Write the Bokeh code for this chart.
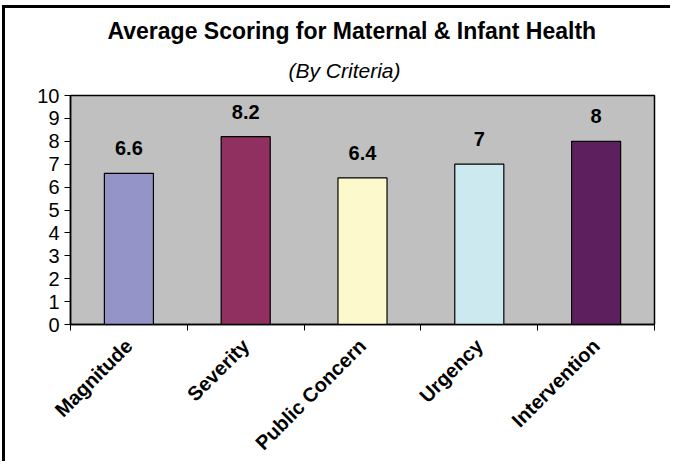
import math
from bokeh.plotting import figure
from bokeh.models import ColumnDataSource, Range1d, FixedTicker, Title
from bokeh.core.properties import value
from bokeh.embed import file_html
from bokeh.resources import INLINE

categories = ["Magnitude", "Severity", "Public Concern", "Urgency", "Intervention"]
scores = [6.6, 8.2, 6.4, 7.0, 8.0]
score_labels = ["6.6", "8.2", "6.4", "7", "8"]
bar_colors = ["#9494C8", "#8F3060", "#FCF9CC", "#CCE9F0", "#5E1F5E"]
y_ticks = [0, 1, 2, 3, 4, 5, 6, 7, 8, 9, 10]

FONT = "Liberation Sans"

xs = [i + 0.5 for i in range(len(categories))]
src = ColumnDataSource(dict(x=xs, top=scores, color=bar_colors,
                            label=score_labels,
                            ly=[s + 1.1 for s in scores]))

p = figure(width=668, height=456, output_backend="svg", toolbar_location=None,
           x_range=Range1d(0, len(categories)), y_range=Range1d(0, 10),
           min_border_left=65, min_border_right=19, min_border_top=87,
           min_border_bottom=139)
p.styles = {"border-top": "3px solid black", "border-left": "3px solid black",
            "margin-top": "5px", "margin-left": "2px"}

p.background_fill_color = "#C0C0C0"
p.border_fill_color = "white"
p.outline_line_color = "black"
p.outline_line_width = 1.5
p.xgrid.visible = False
p.ygrid.visible = False

p.vbar(x="x", top="top", bottom=0, width=0.42, fill_color="color",
       line_color="black", line_width=1.2, source=src)
p.text(x="x", y="ly", text="label", source=src, text_align="center",
       text_baseline="middle", text_font=value(FONT), text_font_size="20px",
       text_font_style="bold", text_color="black")

# y axis
p.yaxis.ticker = FixedTicker(ticks=y_ticks)
p.yaxis.major_label_text_font = FONT
p.yaxis.major_label_text_font_size = "20px"
p.yaxis.major_label_text_color = "black"
p.yaxis.axis_line_color = "black"
p.yaxis.axis_line_width = 1.5
p.yaxis.major_tick_line_color = "black"
p.yaxis.major_tick_out = 6
p.yaxis.major_tick_in = 0
p.yaxis.minor_tick_line_color = None
p.yaxis.major_label_standoff = 5

# x axis: labels at centres, ticks at category boundaries
p.xaxis.ticker = FixedTicker(ticks=xs, minor_ticks=list(range(len(categories) + 1)))
p.xaxis.major_label_overrides = {x: c for x, c in zip(xs, categories)}
p.xaxis.major_label_orientation = math.pi / 4
p.xaxis.major_label_text_font = FONT
p.xaxis.major_label_text_font_size = "20px"
p.xaxis.major_label_text_font_style = "bold"
p.xaxis.major_label_text_color = "black"
p.xaxis.major_tick_line_color = None
p.xaxis.minor_tick_line_color = "black"
p.xaxis.minor_tick_out = 6
p.xaxis.minor_tick_in = 0
p.xaxis.axis_line_color = "black"
p.xaxis.axis_line_width = 1.5
p.xaxis.major_label_standoff = 12

p.add_layout(Title(text="(By Criteria)", align="left", offset=218,
                   text_font=FONT, text_font_size="21px",
                   text_font_style="italic", text_color="black",
                   standoff=27), "above")
p.add_layout(Title(text="Average Scoring for Maternal & Infant Health",
                   align="left", offset=37, text_font=FONT,
                   text_font_size="23px", text_font_style="bold",
                   text_color="black", standoff=0), "above")

open("out.html", "w").write(file_html(p, INLINE))
